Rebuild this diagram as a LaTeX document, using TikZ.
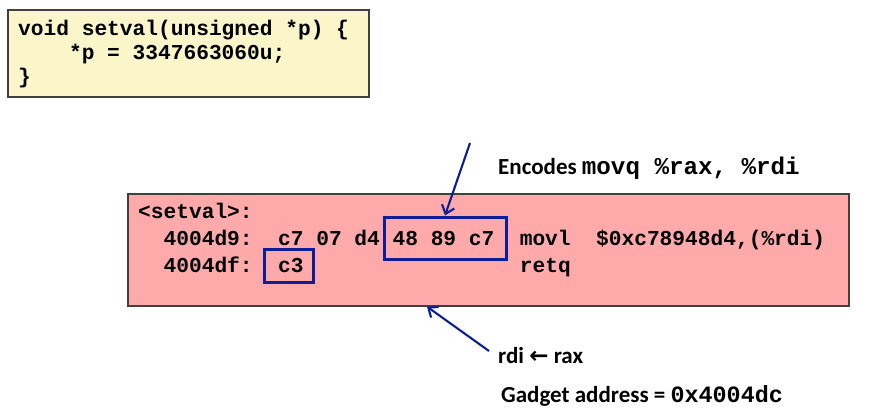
\documentclass[tikz,border=0pt]{standalone}
\usepackage{fontspec}
\setmainfont{Carlito}
\newfontfamily\codefont{Liberation Mono}
\newfontfamily\symfont{DejaVu Sans}
\usetikzlibrary{arrows.meta}
\definecolor{codebg}{RGB}{250,246,202}
\definecolor{asmbg}{RGB}{255,170,170}
\definecolor{frame}{RGB}{64,64,64}
\definecolor{hl}{RGB}{12,30,150}

\begin{document}
\begin{tikzpicture}[x=1pt,y=-1pt,
  panel/.style={draw=frame,line width=1.3pt,inner sep=0pt},
  codeline/.style={inner sep=0pt,anchor=base west,
    font=\codefont\bfseries\fontsize{21.2}{25}\selectfont},
  note/.style={inner sep=0pt,anchor=base west,
    font=\bfseries\fontsize{23}{28}\selectfont},
  hlbox/.style={draw=hl,line width=3pt,inner sep=0pt},
  pointer/.style={draw=hl,line width=2.1pt,
    -{Straight Barb[length=8pt,width=13pt,line width=2.1pt]}}]

\fill[white] (0,0) rectangle (872,414);
\useasboundingbox (0,0) rectangle (872,414);

% C source
\node[panel,fill=codebg,minimum width=361pt,minimum height=87pt] (code) at (188.5,53.5) {};
\node[codeline] (c1) at (18,36) {void~setval(unsigned~*p)~\{};
\node[codeline] (c2) at (18,60) {~~~~*p~=~3347663060u;};
\node[codeline] (c3) at (18,84) {\}};

% disassembly
\node[panel,fill=asmbg,minimum width=721pt,minimum height=112pt] (asm) at (488.5,250) {};
\node[codeline] (a1) at (138,218) {<setval>:};
\node[codeline] (a2) at (138,245) {~~4004d9:~~c7~07~d4~48~89~c7~~movl~~\$0xc78948d4,(\%rdi)};
\node[codeline] (a3) at (138,272) {~~4004df:~~c3~~~~~~~~~~~~~~~~~retq};

% highlighted byte sequences
\node[hlbox,minimum width=122pt,minimum height=42pt] (hlpair) at (445,238) {};
\node[hlbox,minimum width=49pt,minimum height=33pt] (hlret) at (288.5,265.5) {};

% annotations
\node[note] (enc) at (498,175) {Encodes {\codefont\fontsize{24.2}{28}\selectfont movq~\%rax,~\%rdi}};
\node[note] (mov) at (498,363) {rdi {\symfont\bfseries ←} rax};
\node[note] (gadget) at (501,402) {Gadget address = {\codefont\fontsize{23.4}{28}\selectfont 0x4004dc}};

\coordinate (enctail) at (470,143);
\draw[pointer] (enctail) -- (hlpair.north);
\draw[pointer] ([xshift=-9pt,yshift=4pt]mov.west) -- ([xshift=-61.5pt]asm.south);
\end{tikzpicture}
\end{document}
